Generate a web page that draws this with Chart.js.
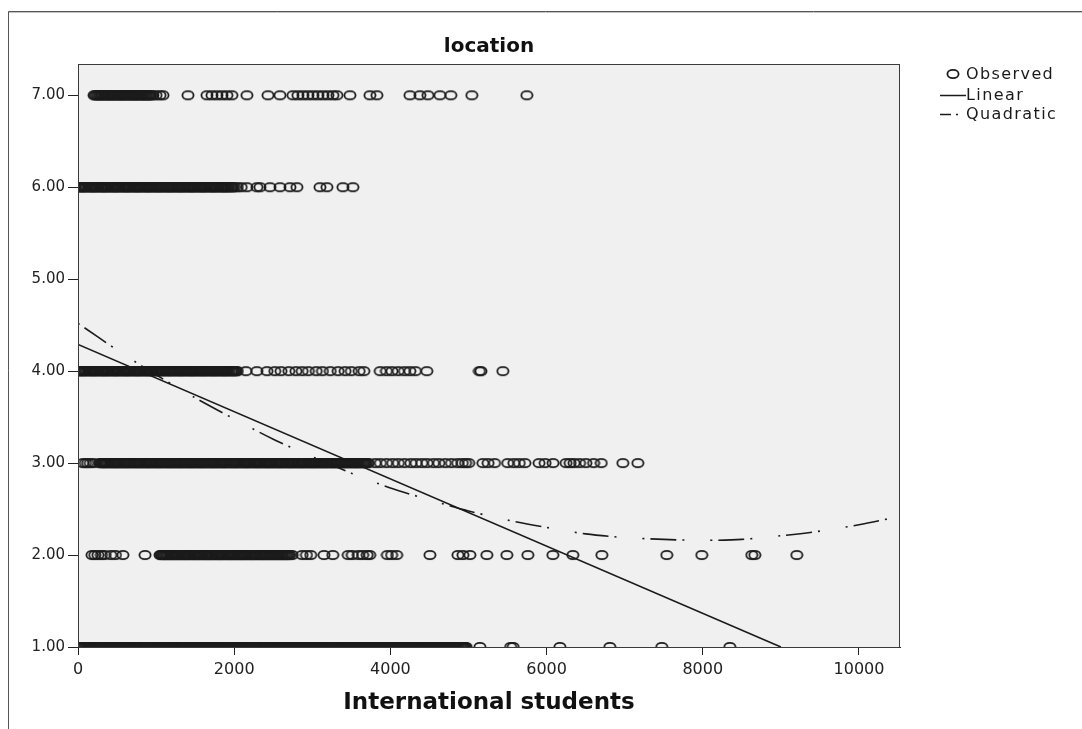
<!DOCTYPE html>
<html>
<head>
<meta charset="utf-8">
<script src="https://cdn.jsdelivr.net/npm/chart.js@4.4.1/dist/chart.umd.min.js"></script>
<style>
  html, body { margin: 0; padding: 0; background: #ffffff; }
  #wrap { position: relative; width: 1082px; height: 729px; }
  canvas { display: block; }
</style>
</head>
<body>
<div id="wrap"><canvas id="chart" width="1082" height="729"></canvas></div>
<script>
// ---- labels and axis settings ----
const chartTitle = 'location';
const xAxisTitle = 'International students';
const legendLabels = ['Observed', 'Linear', 'Quadratic'];
const xTicks = [0, 2000, 4000, 6000, 8000, 10000];
const yTicks = [1, 2, 3, 4, 5, 6, 7];
const xRange = [0, 10525];
const yRange = [1, 7.34];

// ---- observed cases: number of international students, per location code ----
const loc1X = [
  0,13,29,40,56,70,83,99,110,126, 140,153,169,180,196,210,223,239,250,266,
  280,293,309,320,336,350,363,379,390,406, 420,433,449,460,476,490,503,519,530,546,
  560,573,589,600,616,630,643,659,670,686, 700,713,729,740,756,770,783,799,810,826,
  840,853,869,880,896,910,923,939,950,966, 980,993,1009,1020,1036,1050,1063,1079,1090,1106,
  1120,1133,1149,1160,1176,1190,1203,1219,1230,1246, 1260,1273,1289,1300,1316,1330,1343,1359,1370,1386,
  1400,1413,1429,1440,1456,1470,1483,1499,1510,1526, 1540,1553,1569,1580,1596,1610,1623,1639,1650,1666,
  1680,1693,1709,1720,1736,1750,1763,1779,1790,1806, 1820,1833,1849,1860,1876,1890,1903,1919,1930,1946,
  1960,1973,1989,2000,2016,2030,2043,2059,2070,2086, 2100,2113,2129,2140,2156,2170,2183,2199,2210,2226,
  2240,2253,2269,2280,2296,2310,2323,2339,2350,2366, 2380,2393,2409,2420,2436,2450,2463,2479,2490,2506,
  2520,2533,2549,2560,2576,2590,2603,2619,2630,2646, 2660,2673,2689,2700,2716,2730,2743,2759,2770,2786,
  2800,2813,2829,2840,2856,2870,2883,2899,2910,2926, 2940,2953,2969,2980,2996,3010,3023,3039,3050,3066,
  3080,3093,3109,3120,3136,3150,3163,3179,3190,3206, 3220,3233,3249,3260,3276,3290,3303,3319,3330,3346,
  3360,3373,3389,3400,3416,3430,3443,3459,3470,3486, 3500,3513,3529,3540,3556,3570,3583,3599,3610,3626,
  3640,3653,3669,3680,3696,3710,3723,3739,3750,3766, 3780,3793,3809,3820,3836,3850,3863,3879,3890,3906,
  3920,3933,3949,3960,3976,3990,4003,4019,4030,4046, 4060,4073,4089,4100,4116,4130,4143,4159,4170,4186,
  4200,4213,4229,4240,4256,4270,4283,4299,4310,4326, 4340,4353,4369,4380,4396,4410,4423,4439,4450,4466,
  4480,4493,4509,4520,4536,4550,4563,4579,4590,4606, 4620,4633,4649,4660,4676,4690,4703,4719,4730,4746,
  4760,4773,4789,4800,4816,4830,4843,4859,4870,4886, 4900,4913,4929,4940,4956,4970,
  5146, 5540, 5572, 6170, 6810, 7475, 8346
];
const loc2X = [
  180, 215, 255, 300, 340, 420, 480, 575, 858,
  1050,1065,1076,1091,1103,1118,1131,1144,1158,1171, 1190,1205,1216,1231,1243,1258,1271,1284,1298,1311,
  1330,1345,1356,1371,1383,1398,1411,1424,1438,1451, 1470,1485,1496,1511,1523,1538,1551,1564,1578,1591,
  1610,1625,1636,1651,1663,1678,1691,1704,1718,1731, 1750,1765,1776,1791,1803,1818,1831,1844,1858,1871,
  1890,1905,1916,1931,1943,1958,1971,1984,1998,2011, 2030,2045,2056,2071,2083,2098,2111,2124,2138,2151,
  2170,2185,2196,2211,2223,2238,2251,2264,2278,2291, 2310,2325,2336,2351,2363,2378,2391,2404,2418,2431,
  2450,2465,2476,2491,2503,2518,2531,2544,2558,2571, 2590,2605,2616,2631,2643,2658,2671,2684,2698,2711, 2742,
  2870, 2925, 2980, 3150, 3262, 3460, 3512, 3590, 3645, 3702, 3735, 3962, 4015, 4080, 4506,
  4864, 4928, 5018, 5235, 5491, 5760, 6080, 6336, 6707, 7539, 7987, 8627, 8666, 9203
];
const loc3X = [
  62, 95, 124, 158, 203,
  280,292,307,319,332,347,358,373,386,401, 420,432,447,459,472,487,498,513,526,541,
  560,572,587,599,612,627,638,653,666,681, 700,712,727,739,752,767,778,793,806,821,
  840,852,867,879,892,907,918,933,946,961, 980,992,1007,1019,1032,1047,1058,1073,1086,1101,
  1120,1132,1147,1159,1172,1187,1198,1213,1226,1241, 1260,1272,1287,1299,1312,1327,1338,1353,1366,1381,
  1400,1412,1427,1439,1452,1467,1478,1493,1506,1521, 1540,1552,1567,1579,1592,1607,1618,1633,1646,1661,
  1680,1692,1707,1719,1732,1747,1758,1773,1786,1801, 1820,1832,1847,1859,1872,1887,1898,1913,1926,1941,
  1960,1972,1987,1999,2012,2027,2038,2053,2066,2081, 2100,2112,2127,2139,2152,2167,2178,2193,2206,2221,
  2240,2252,2267,2279,2292,2307,2318,2333,2346,2361, 2380,2392,2407,2419,2432,2447,2458,2473,2486,2501,
  2520,2532,2547,2559,2572,2587,2598,2613,2626,2641, 2660,2672,2687,2699,2712,2727,2738,2753,2766,2781,
  2800,2812,2827,2839,2852,2867,2878,2893,2906,2921, 2940,2952,2967,2979,2992,3007,3018,3033,3046,3061,
  3080,3092,3107,3119,3132,3147,3158,3173,3186,3201, 3220,3232,3247,3259,3272,3287,3298,3313,3326,3341,
  3360,3372,3387,3399,3412,3427,3438,3453,3466,3481, 3500,3512,3527,3539,3552,3567,3578,3593,3606,3621,
  3640,3652,3667,3679,3692,3707,3718,
  3805, 3872, 3951, 4030, 4102, 4180, 4262, 4330, 4402, 4470, 4552, 4620, 4703, 4782, 4861, 4920, 4962, 5003,
  5184, 5251, 5333, 5502, 5581, 5650, 5722, 5903, 5981, 6082, 6250, 6302, 6351, 6422, 6503, 6602, 6700, 6976, 7168
];
const loc4X = [
  0,14,25,40,54,65,80,93,106,120, 140,154,165,180,194,205,220,233,246,260,
  280,294,305,320,334,345,360,373,386,400, 420,434,445,460,474,485,500,513,526,540,
  560,574,585,600,614,625,640,653,666,680, 700,714,725,740,754,765,780,793,806,820,
  840,854,865,880,894,905,920,933,946,960, 980,994,1005,1020,1034,1045,1060,1073,1086,1100,
  1120,1134,1145,1160,1174,1185,1200,1213,1226,1240, 1260,1274,1285,1300,1314,1325,1340,1353,1366,1380,
  1400,1414,1425,1440,1454,1465,1480,1493,1506,1520, 1540,1554,1565,1580,1594,1605,1620,1633,1646,1660,
  1680,1694,1705,1720,1734,1745,1760,1773,1786,1800, 1820,1834,1845,1860,1874,1885,1900,1913,1926,1940,
  1960,1974,1985,2000,2014,2025,2040,
  2150, 2290, 2420, 2520, 2600, 2700, 2790, 2870, 2950, 3050, 3130, 3230, 3330, 3420, 3500, 3600, 3660,
  3870, 3950, 4020, 4100, 4180, 4250, 4320, 4467, 5140, 5160, 5440
];
const loc6X = [
  0,11,26,38,51,64,79,90,103,118, 140,151,166,178,191,204,219,230,243,258,
  280,291,306,318,331,344,359,370,383,398, 420,431,446,458,471,484,499,510,523,538,
  560,571,586,598,611,624,639,650,663,678, 700,711,726,738,751,764,779,790,803,818,
  840,851,866,878,891,904,919,930,943,958, 980,991,1006,1018,1031,1044,1059,1070,1083,1098,
  1120,1131,1146,1158,1171,1184,1199,1210,1223,1238, 1260,1271,1286,1298,1311,1324,1339,1350,1363,1378,
  1400,1411,1426,1438,1451,1464,1479,1490,1503,1518, 1540,1551,1566,1578,1591,1604,1619,1630,1643,1658,
  1680,1691,1706,1718,1731,1744,1759,1770,1783,1798, 1820,1831,1846,1858,1871,1884,1899,1910,1923,1938,
  1960,1971,1986,2005,2040,2090,
  2163, 2291, 2330, 2458, 2586, 2714, 2803, 3098, 3187, 3392, 3520
];
const loc7X = [
  205,221,234,250,263,279,292,308,321,337, 355,371,384,400,413,429,442,458,471,487,
  505,521,534,550,563,579,592,608,621,637, 655,671,684,700,713,729,742,758,771,787,
  805,821,834,850,863,879,892,908,921,937, 960, 1000, 1050, 1088,
  1408, 1651, 1715, 1779, 1843, 1907, 1971, 2163, 2432, 2586, 2752, 2816, 2880, 2944, 3008, 3072,
  3136, 3200, 3264, 3315, 3482, 3738, 3827, 4250, 4378, 4480, 4634, 4774, 5043, 5747
];
const locationRows = [[1, loc1X], [2, loc2X], [3, loc3X], [4, loc4X], [6, loc6X], [7, loc7X]];

// ---- fitted curves (points along each curve) ----
const linearX = [0, 9000];
const linearY = [4.29, 1.00];
const quadX = [0, 500, 1000, 1500, 2000, 2500, 3000, 3500, 4000, 4500, 5000, 5500, 6000, 6500, 7000, 7500, 8000, 8500, 9000, 9500, 10000, 10525];
const quadY = [4.52, 4.23, 3.96, 3.71, 3.48, 3.26, 3.07, 2.89, 2.73, 2.60, 2.48, 2.38, 2.30, 2.23, 2.19, 2.17, 2.16, 2.17, 2.21, 2.26, 2.33, 2.42];

const observed = [];
locationRows.forEach(([loc, xs]) => xs.forEach(x => observed.push({ x: x, y: loc })));
const linearPts = linearX.map((x, i) => ({ x: x, y: linearY[i] }));
const quadPts = quadX.map((x, i) => ({ x: x, y: quadY[i] }));

// open ring marker used for observed cases
function ringMarker() {
  const c = document.createElement('canvas');
  c.width = 14; c.height = 12;
  const g = c.getContext('2d');
  g.strokeStyle = '#1c1c1c';
  g.lineWidth = 1.8;
  g.beginPath();
  g.ellipse(7, 6, 5.6, 4.2, 0, 0, Math.PI * 2);
  g.stroke();
  return c;
}
const ring = ringMarker();
const quadDash = [2, 6, 26, 6, 2, 26];
const FONT = '"DejaVu Sans", "Liberation Sans", Arial, sans-serif';

// plot background, outer frame, titles and legend
const decor = {
  id: 'decor',
  beforeDraw(chart) {
    const { ctx, chartArea: a } = chart;
    ctx.save();
    ctx.fillStyle = '#ffffff';
    ctx.fillRect(0, 0, chart.width, chart.height);
    ctx.fillStyle = '#f0f0f0';
    ctx.fillRect(a.left, a.top, a.right - a.left, a.bottom - a.top);
    ctx.restore();
  },
  afterDraw(chart) {
    const { ctx, chartArea: a } = chart;
    ctx.save();
    // plot box
    ctx.strokeStyle = '#3a3a3a';
    ctx.lineWidth = 1;
    ctx.strokeRect(a.left + 0.5, a.top + 0.5, a.right - a.left - 1, a.bottom - a.top);
    // outer frame
    ctx.strokeStyle = '#555555';
    ctx.beginPath();
    ctx.moveTo(8.5, 729); ctx.lineTo(8.5, 11.5); ctx.lineTo(1082, 11.5);
    ctx.stroke();
    ctx.strokeStyle = '#c4c4c4';
    ctx.beginPath();
    ctx.moveTo(9, 12.5); ctx.lineTo(1082, 12.5);
    ctx.stroke();
    // titles
    const cx = (a.left + a.right) / 2;
    ctx.fillStyle = '#111111';
    ctx.textAlign = 'center';
    ctx.textBaseline = 'middle';
    ctx.font = 'bold 20px ' + FONT;
    ctx.fillText(chartTitle, cx, 47);
    ctx.font = 'bold 23px ' + FONT;
    ctx.fillText(xAxisTitle, cx, 703);
    // legend
    ctx.textAlign = 'left';
    ctx.font = '16px ' + FONT;
    ctx.letterSpacing = '1.4px';
    ctx.fillStyle = '#1a1a1a';
    ctx.drawImage(ring, 953 - 7, 74 - 6);
    ctx.fillText(legendLabels[0], 966, 75);
    ctx.strokeStyle = '#1a1a1a';
    ctx.lineWidth = 1.5;
    ctx.beginPath(); ctx.moveTo(940, 95.5); ctx.lineTo(966, 95.5); ctx.stroke();
    ctx.fillText(legendLabels[1], 966, 96);
    ctx.beginPath(); ctx.moveTo(940, 114.5); ctx.lineTo(951, 114.5); ctx.stroke();
    ctx.beginPath(); ctx.moveTo(956, 114.5); ctx.lineTo(958, 114.5); ctx.stroke();
    ctx.fillText(legendLabels[2], 966, 115);
    ctx.restore();
  }
};

new Chart(document.getElementById('chart'), {
  type: 'scatter',
  data: {
    datasets: [
      {
        label: legendLabels[0],
        data: observed,
        pointStyle: ring,
        pointRadius: 6,
        pointHoverRadius: 6,
        showLine: false,
        clip: 0,
        order: 3
      },
      {
        label: legendLabels[1],
        data: linearPts,
        showLine: true,
        borderColor: '#1a1a1a',
        borderWidth: 1.6,
        pointRadius: 0,
        tension: 0,
        clip: 0,
        order: 1
      },
      {
        label: legendLabels[2],
        data: quadPts,
        showLine: true,
        borderColor: '#1a1a1a',
        borderWidth: 1.6,
        borderDash: quadDash,
        pointRadius: 0,
        tension: 0.3,
        clip: 0,
        order: 2
      }
    ]
  },
  options: {
    responsive: false,
    animation: false,
    events: [],
    layout: { padding: { left: 0, top: 64, right: 182, bottom: 0 } },
    plugins: { legend: { display: false }, tooltip: { enabled: false }, title: { display: false } },
    scales: {
      x: {
        type: 'linear',
        min: xRange[0],
        max: xRange[1],
        afterBuildTicks: s => { s.ticks = xTicks.map(v => ({ value: v })); },
        afterFit: s => { s.height = 82; },
        grid: { display: true, drawOnChartArea: false, drawTicks: true, tickLength: 8, color: '#222222' },
        border: { display: true, color: '#222222', width: 1 },
        ticks: { font: { family: FONT, size: 16 }, color: '#222222', padding: 5, maxRotation: 0, callback: v => String(v) }
      },
      y: {
        type: 'linear',
        min: yRange[0],
        max: yRange[1],
        afterBuildTicks: s => { s.ticks = yTicks.map(v => ({ value: v })); },
        afterFit: s => { s.width = 78; },
        grid: { display: true, drawOnChartArea: false, drawTicks: true, tickLength: 10, color: '#222222' },
        border: { display: true, color: '#222222', width: 1 },
        ticks: { font: { family: FONT, size: 15 }, color: '#222222', padding: 3, callback: v => Number(v).toFixed(2) }
      }
    }
  },
  plugins: [decor]
});
</script>
</body>
</html>
